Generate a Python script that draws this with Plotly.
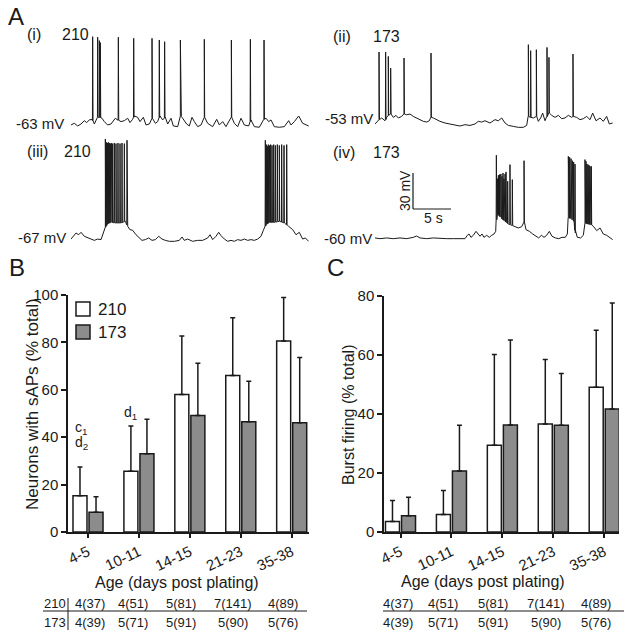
import numpy as np
import plotly.graph_objects as go

W, H = 632, 637
FONT = "Liberation Sans, Arial, sans-serif"
INK = "#1a1a1a"
GREY = "#8c8c8c"

# ---- panel B / C data ----
ages = ["4-5", "10-11", "14-15", "21-23", "35-38"]

sap_210 = [15.3, 25.6, 58.0, 66.0, 80.6]
sap_210_err = [12.1, 19.1, 24.7, 24.4, 18.3]
sap_173 = [8.3, 33.0, 49.2, 46.5, 46.1]
sap_173_err = [6.6, 14.6, 22.0, 17.1, 27.5]

burst_210 = [3.6, 5.9, 29.4, 36.6, 49.1]
burst_210_err = [7.1, 8.2, 30.8, 21.9, 19.3]
burst_173 = [5.5, 20.7, 36.3, 36.2, 41.7]
burst_173_err = [6.3, 15.5, 28.8, 17.5, 35.9]

n_210 = ["4(37)", "4(51)", "5(81)", "7(141)", "4(89)"]
n_173 = ["4(39)", "5(71)", "5(91)", "5(90)", "5(76)"]

# ---- panel A traces: membrane potential (s, mV) ----
t_i = [0.0, 0.44, 0.88, 1.32, 1.75, 2.06, 2.41, 2.76, 3.07, 3.38, 3.73, 4.08, 4.39, 4.82, 5.26, 5.83,
       6.14, 6.58, 7.02, 7.46, 7.76, 8.11, 8.33, 8.77, 9.08, 9.52, 9.87, 10.31, 10.66, 11.1, 11.4,
       11.71, 12.06, 12.41, 12.72, 13.16, 13.46, 14.04, 14.39, 14.69, 15.22, 15.57, 15.92, 16.23,
       16.67, 17.11, 17.54, 17.98, 18.64, 19.17, 19.52, 19.96, 20.39, 21.1, 21.49, 21.93, 22.37,
       22.81, 23.38, 23.68, 24.12, 24.78, 25.39, 25.66, 26.01, 26.32, 26.75, 27.41, 28.07, 28.64,
       28.95, 29.39, 29.96, 30.48, 30.92, 31.27]
v_i = [-64.4, -63.0, -65.2, -63.6, -60.8, -62.4, -60.2, -59.7, -63.6, -58.0, -58.0, -58.8, -61.6,
       -64.4, -63.6, -58.8, -60.2, -61.6, -60.8, -58.8, -62.4, -59.7, -56.9, -58.0, -61.6, -58.0,
       -64.4, -63.6, -58.8, -63.0, -61.6, -56.9, -60.2, -58.0, -63.6, -58.8, -65.2, -65.8, -56.9,
       -58.8, -63.6, -65.2, -58.0, -61.6, -65.8, -64.4, -58.0, -63.0, -65.8, -59.7, -64.4, -61.6,
       -65.8, -58.0, -63.0, -65.8, -58.8, -64.4, -65.2, -60.2, -65.8, -66.3, -59.7, -58.8, -61.6,
       -60.2, -65.8, -66.3, -65.8, -60.8, -64.4, -61.6, -56.9, -63.0, -64.4, -65.2]
spk_t_i = [2.85, 3.51, 3.73, 3.86, 6.23, 8.25, 10.66, 11.62, 12.32, 14.39, 14.47, 17.54, 21.1, 23.6, 25.4]
spk_v_i = [9.2, 8.7, 5.9, 4.2, 8.7, 7.8, 7.8, 6.4, 5.0, 6.4, 5.9, 7.0, 6.4, 7.0, 6.4]

t_ii = [0.0, 0.31, 0.53, 0.88, 1.32, 1.54, 1.75, 2.06, 2.41, 2.76, 3.07, 3.51, 3.82, 4.17, 4.61,
        5.04, 5.48, 5.92, 6.36, 6.8, 7.15, 7.37, 7.68, 8.11, 8.55, 9.21, 9.87, 10.53, 11.18, 11.84,
        12.5, 13.16, 13.6, 14.04, 14.47, 15.13, 15.79, 16.23, 16.67, 17.11, 17.54, 18.2, 18.86,
        19.52, 19.96, 20.18, 20.48, 20.83, 21.23, 21.49, 21.8, 22.06, 22.37, 22.63, 22.89, 23.25,
        23.68, 24.12, 24.56, 25.0, 25.44, 25.88, 26.05, 26.54, 26.97, 27.41, 27.85, 28.29, 28.64,
        29.08, 29.61, 30.04, 30.48, 30.83, 31.27]
v_ii = [-57.4, -54.7, -53.8, -52.4, -54.7, -51.9, -50.2, -49.1, -51.9, -50.2, -52.4, -51.1, -49.1,
        -49.7, -49.1, -51.1, -52.4, -53.8, -55.2, -55.8, -54.7, -51.9, -52.4, -53.8, -55.2, -56.6,
        -57.4, -58.0, -59.1, -58.0, -58.6, -57.4, -55.2, -55.8, -54.7, -56.6, -53.8, -54.7, -52.4,
        -56.6, -58.6, -59.4, -60.2, -60.2, -58.6, -51.1, -51.9, -52.4, -51.1, -55.2, -52.4, -48.3,
        -54.7, -51.1, -48.3, -50.2, -51.9, -50.2, -53.0, -52.4, -50.2, -51.9, -51.1, -51.9, -53.8,
        -53.0, -51.1, -53.8, -48.3, -54.7, -52.4, -55.2, -51.1, -57.4, -56.6]
spk_t_ii = [0.53, 1.40, 1.75, 2.06, 3.82, 7.37, 20.18, 20.48, 21.23, 22.63, 22.89, 26.05]
spk_v_ii = [2.6, 2.6, -1.1, -10.8, -2.4, 1.7, 8.7, 3.7, 4.5, 6.4, -1.9, 0.9]

t_iii = [0.0, 0.31, 0.66, 1.01, 1.32, 1.75, 2.19, 2.63, 3.07, 3.51, 3.95, 4.25, 4.52, 4.82, 5.26,
         5.92, 6.58, 7.15, 7.46, 7.76, 8.11, 8.55, 8.99, 9.34, 9.78, 10.22, 10.66, 11.1, 11.54,
         11.97, 12.41, 12.94, 13.6, 14.25, 14.61, 14.91, 15.35, 16.01, 16.67, 17.32, 17.98, 18.29,
         18.64, 19.08, 19.43, 19.74, 20.18, 20.61, 21.05, 21.49, 21.93, 22.37, 22.81, 23.25, 23.68,
         24.12, 24.56, 25.0, 25.31, 25.66, 26.1, 26.75, 27.41, 28.07, 28.64, 29.17, 29.61, 30.04,
         30.48, 30.83, 31.27]
v_iii = [-68.7, -65.9, -63.7, -65.1, -63.1, -66.4, -67.8, -68.7, -69.8, -68.7, -69.2, -63.7, -58.7,
         -55.9, -54.8, -55.3, -55.3, -53.9, -58.1, -60.9, -61.4, -65.1, -67.8, -69.8, -69.2, -67.8,
         -69.8, -69.2, -66.4, -68.7, -69.8, -70.6, -70.6, -69.8, -67.0, -69.8, -68.7, -70.6, -69.8,
         -69.8, -67.8, -65.1, -69.2, -66.4, -63.1, -65.9, -68.7, -70.6, -69.8, -70.6, -69.2, -69.8,
         -68.7, -69.8, -69.2, -69.8, -68.7, -66.4, -61.4, -56.7, -54.8, -54.8, -53.9, -55.3, -58.1,
         -60.9, -65.1, -63.1, -68.7, -67.8, -70.6]
spk_t_iii = [4.52, 4.65, 4.78, 4.91, 5.04, 5.18, 5.31, 5.48, 5.70, 5.92, 6.18, 6.45, 6.71, 7.02, 7.37,
             25.57, 25.70, 25.83, 25.96, 26.10, 26.27, 26.45, 26.67, 26.89, 27.15, 27.41, 27.72,
             28.03, 28.38]
spk_v_iii = [14.7, 11.9, 11.3, 11.9, 11.3, 10.8, 11.3, 10.8, 11.3, 10.8, 11.3, 10.8, 11.3, 10.8, 13.6,
             13.6, 10.0, 8.6, 10.0, 9.3, 10.0, 9.3, 10.0, 9.3, 10.0, 9.3, 10.0, 9.3, 10.0]

t_iv = [0.0, 0.66, 1.54, 2.41, 3.29, 4.17, 5.04, 5.48, 5.92, 6.8, 7.68, 8.55, 9.43, 10.31, 11.18,
        11.84, 12.15, 12.37, 12.63, 12.94, 13.29, 13.55, 13.82, 14.08, 14.34, 14.69, 15.04, 15.35,
        15.66, 15.88, 16.01, 16.23, 16.67, 17.11, 17.54, 17.98, 18.42, 18.86, 19.3, 19.61, 19.87,
        20.31, 20.75, 21.18, 21.54, 21.89, 22.24, 22.59, 22.94, 23.29, 23.73, 24.17, 24.61, 25.04,
        25.31, 25.44, 25.79, 26.18, 26.36, 26.62, 27.06, 27.41, 27.63, 27.94, 28.38, 28.73, 29.17,
        29.61, 30.04, 30.48, 30.92, 31.27]
v_iv = [-59.7, -60.3, -59.7, -60.3, -59.7, -60.3, -59.2, -58.1, -59.7, -60.3, -59.7, -60.3, -60.3,
        -60.3, -60.6, -60.3, -57.5, -56.4, -59.2, -57.5, -54.2, -56.4, -58.3, -56.4, -59.2, -57.5,
        -59.2, -57.5, -56.4, -54.2, -40.3, -40.3, -43.6, -45.8, -48.1, -49.2, -50.3, -51.4, -50.3,
        -46.4, -52.8, -54.2, -56.4, -58.3, -59.7, -57.5, -59.2, -57.5, -54.2, -58.3, -59.7, -60.3,
        -59.2, -59.2, -56.4, -43.1, -43.6, -45.8, -55.6, -59.2, -59.7, -57.5, -47.2, -48.1, -48.6,
        -50.0, -53.6, -51.4, -56.4, -57.5, -59.2, -61.1]
spk_t_iv = [15.97, 16.14, 16.23, 16.32, 16.40, 16.49, 16.58, 16.71, 16.84, 16.97, 17.11, 17.24, 17.46,
            17.76, 18.07, 19.61, 25.44, 25.53, 25.61, 25.70, 25.79, 25.88, 25.96, 26.05, 26.14, 26.32,
            27.63, 27.76, 27.89, 28.03, 28.16, 28.29, 28.46]
spk_v_iv = [9.2, -10.3, -7.5, -9.2, -6.9, -8.3, -6.4, -8.3, -5.6, -10.3, -6.4, -4.7, -12.5, 1.4, -11.1,
            4.7, 8.3, 6.9, 7.5, 5.6, 6.4, 4.2, 4.7, 2.8, 3.6, 1.9, 5.6, 4.2, 1.9, 1.4, 0.8, 0.0, 0.0]


def px(x):
    return x / W


def py(y):
    return 1 - y / H


def build_trace(t_base, v_base, t_spk, v_spk):
    # drop each spike onto the baseline as a narrow up/down stroke
    t = list(t_base)
    v = list(v_base)
    v_foot = np.interp(t_spk, t_base, v_base)
    for ts, vp, vb in zip(t_spk, v_spk, v_foot):
        t += [ts - 0.03, ts, ts + 0.05]
        v += [vb, vp, vb]
    order = np.argsort(t, kind="stable")
    return np.array(t)[order], np.array(v)[order]


fig = go.Figure()

# trace panels: (axis no, left px, top px, bottom px, px of ref level, ref mV, data)
traces = [
    (1, 71, 30, 135, 123.3, -63, (t_i, v_i, spk_t_i, spk_v_i)),
    (2, 375, 38, 133, 118.7, -53, (t_ii, v_ii, spk_t_ii, spk_v_ii)),
    (3, 71, 133, 248, 237.0, -67, (t_iii, v_iii, spk_t_iii, spk_v_iii)),
    (4, 375, 148, 248, 238.3, -60, (t_iv, v_iv, spk_t_iv, spk_v_iv)),
]
PX_PER_S = 7.6
PX_PER_MV = 1.2
axes = {}
for n, left, top, bottom, ref_px, ref_mv, data in traces:
    t, v = build_trace(*data)
    fig.add_trace(go.Scatter(
        x=t, y=v, mode="lines", line=dict(color=INK, width=1),
        xaxis=f"x{n}", yaxis=f"y{n}", showlegend=False, hoverinfo="skip",
    ))
    axes[f"xaxis{n}"] = dict(domain=[px(left), px(left + 238)], range=[0, 238 / PX_PER_S],
                             visible=False, anchor=f"y{n}", automargin=False)
    axes[f"yaxis{n}"] = dict(domain=[py(bottom), py(top)],
                             range=[ref_mv - (bottom - ref_px) / PX_PER_MV,
                                    ref_mv + (ref_px - top) / PX_PER_MV],
                             visible=False, anchor=f"x{n}", automargin=False)

# scale bar in (iv): 30 mV / 5 s
fig.add_shape(type="line", xref="x4", yref="y4", x0=5, x1=5, y0=-35.6, y1=-5.6,
              line=dict(color=INK, width=1.2))
fig.add_shape(type="line", xref="x4", yref="y4", x0=5, x1=10, y0=-35.6, y1=-35.6,
              line=dict(color=INK, width=1.2))

# bar panels
bar_w = 0.275
for n, s210, e210, s173, e173 in [
    (5, sap_210, sap_210_err, sap_173, sap_173_err),
    (6, burst_210, burst_210_err, burst_173, burst_173_err),
]:
    for vals, errs, color, off in [(s210, e210, "white", -0.295), (s173, e173, GREY, 0.02)]:
        fig.add_trace(go.Bar(
            x=ages, y=vals, width=bar_w, offset=off,
            marker=dict(color=color, line=dict(color=INK, width=1.5)),
            error_y=dict(type="data", array=errs, arrayminus=[0] * len(errs), symmetric=False,
                         color=INK, thickness=1.5, width=2.5),
            xaxis=f"x{n}", yaxis=f"y{n}", showlegend=False,
        ))

ax_common = dict(showline=True, linecolor=INK, linewidth=1.5, showgrid=False, zeroline=False,
                 ticks="outside", tickcolor=INK, tickwidth=1.5, automargin=False,
                 tickfont=dict(family=FONT, size=15, color=INK))
axes["xaxis5"] = dict(domain=[px(68), px(309)], range=[-0.393, 4.34], anchor="y5", type="category",
                      tickangle=-25, ticklen=4, **ax_common)
axes["yaxis5"] = dict(domain=[py(532), py(295)], range=[0, 100], dtick=20, anchor="x5",
                      ticklen=5, **ax_common)
axes["xaxis6"] = dict(domain=[px(384), px(619)], range=[-0.324, 4.29], anchor="y6", type="category",
                      tickangle=-25, ticklen=4, **ax_common)
axes["yaxis6"] = dict(domain=[py(532), py(296)], range=[0, 80], dtick=20, anchor="x6",
                      ticklen=5, **ax_common)

ann = []


def text(x, y, s, size=15, xanchor="center", angle=0):
    ann.append(dict(x=px(x), y=py(y), xref="paper", yref="paper", text=s, showarrow=False,
                    xanchor=xanchor, yanchor="middle", textangle=angle,
                    font=dict(family=FONT, size=size, color=INK)))


# panel letters and trace labels
text(6, 17, "A", 24, "left")
text(7, 267, "B", 24, "left")
text(325, 267, "C", 24, "left")
text(25, 34, "(i)", 16, "left")
text(60, 34, "210", 16, "left")
text(331, 36, "(ii)", 16, "left")
text(371, 36, "173", 16, "left")
text(25, 151, "(iii)", 16, "left")
text(62, 151, "210", 16, "left")
text(331, 152, "(iv)", 16, "left")
text(371, 152, "173", 16, "left")
text(66, 123, "-63 mV", 15, "right")
text(375, 118, "-53 mV", 15, "right")
text(68, 237, "-67 mV", 15, "right")
text(374, 238, "-60 mV", 15, "right")
text(405, 191, "30 mV", 14, angle=-90)
text(433, 218, "5 s", 14)

# axis titles
text(32, 404, "Neurons with sAPs (% total)", 17, angle=-90)
text(348, 415, "Burst firing (% total)", 16, angle=-90)
text(177, 582, "Age (days post plating)", 16)
text(483, 581, "Age (days post plating)", 16)

# significance marks
text(73, 428, "c<sub>1</sub>", 14, "left")
text(73, 443, "d<sub>2</sub>", 14, "left")
text(122, 413, "d<sub>1</sub>", 14, "left")

# legend
shapes = []
for y0, col, lab in [(302, "white", "210"), (325, GREY, "173")]:
    shapes.append(dict(type="rect", xref="paper", yref="paper", x0=px(76), x1=px(90),
                       y0=py(y0 + 14), y1=py(y0), fillcolor=col,
                       line=dict(color=INK, width=1.5)))
    text(96, y0 + 7.5, lab, 17, "left")

# n table under each panel
text(55, 603, "210", 13)
text(55, 622, "173", 13)
for cols, x_from, x_to in [([90, 133, 181, 233, 283], 43, 307), ([398, 443, 493, 546, 596], 383, 624)]:
    for xc, a, b in zip(cols, n_210, n_173):
        text(xc, 603, a, 13)
        text(xc, 622, b, 13)
    shapes.append(dict(type="line", xref="paper", yref="paper", x0=px(x_from), x1=px(x_to),
                       y0=py(611), y1=py(611), line=dict(color=INK, width=1)))
shapes.append(dict(type="line", xref="paper", yref="paper", x0=px(68), x1=px(68),
                   y0=py(630), y1=py(598), line=dict(color=INK, width=1)))

fig.update_layout(
    width=W, height=H,
    margin=dict(l=0, r=0, t=0, b=0, autoexpand=False),
    paper_bgcolor="white", plot_bgcolor="white",
    barmode="overlay",
    font=dict(family=FONT, color=INK),
    annotations=ann,
    **axes,
)
for s in shapes:
    fig.add_shape(**s)

# page body has a default margin; drop it so the figure sits at the window origin
fig.write_html("out.html", config={"displayModeBar": False},
               post_script="document.body.style.margin='0';")
